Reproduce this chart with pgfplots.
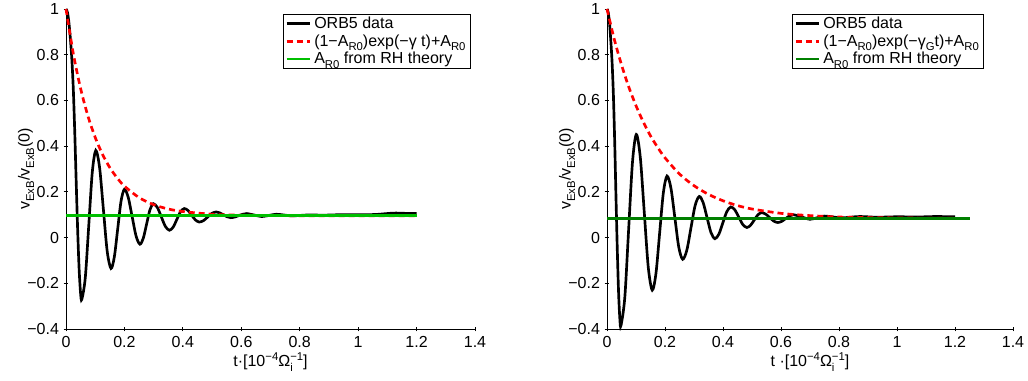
\documentclass[border=0pt]{standalone}
\usepackage{fontspec}
\setmainfont{Liberation Sans}
\usepackage{pgfplots}
\pgfplotsset{compat=1.18}
\definecolor{mred}{RGB}{255,0,0}
\definecolor{mgreenA}{RGB}{0,191,0}
\definecolor{mgreenB}{RGB}{0,128,0}
\newcommand{\fs}{\fontsize{12}{14}\selectfont}
\newcommand{\sbs}[1]{\raisebox{-3.4pt}{\fontsize{8.5}{9}\selectfont #1}}
\newcommand{\sps}[1]{\raisebox{4.6pt}{\fontsize{8.5}{9}\selectfont #1}}
\pgfplotsset{
 mystyle/.style={
  scale only axis, height=240pt,
  xmin=0,xmax=1.4,ymin=-0.4,ymax=1,
  axis lines=left, axis line style={-, line width=0.6pt},
  xtick={0,0.2,0.4,0.6,0.8,1,1.2,1.4}, xticklabels={0,0.2,0.4,0.6,0.8,1,1.2,1.4},
  ytick={-0.4,-0.2,0,0.2,0.4,0.6,0.8,1}, yticklabels={−0.4,−0.2,0,0.2,0.4,0.6,0.8,1},
  tick style={line width=0.6pt, black}, major tick length=3.5pt,
  tick label style={font=\fs},
  label style={font=\fs},
  clip=false,
  legend cell align=left,
  legend style={font=\fs, draw=black, line width=0.6pt, anchor=north west, inner sep=1.5pt, row sep=2pt,
    nodes={inner ysep=0.5pt}},
  legend image code/.code={\draw[#1] (0cm,0cm) -- (0.62cm,0cm);},
  ylabel={v\sbs{ExB}/v\sbs{ExB}(0)},
  ylabel style={at={([xshift=-30pt]axis description cs:0,0.5)}, anchor=center},
  xlabel style={at={([yshift=-24.75pt]axis description cs:0.5,0)}, anchor=center},
 },
 blk/.style={black, line width=2pt, smooth},
 rdd/.style={mred, line width=2pt, dash pattern=on 4.5pt off 3pt, smooth},
}
\begin{document}
\begin{tikzpicture}
\useasboundingbox (0,0) rectangle (771pt,285.75pt);
% left panel
\begin{axis}[mystyle, width=306.75pt, at={(49.5pt,39pt)}, anchor=south west,
  xlabel={t·[10\sps{−4}Ω\rlap{\sbs{i}}\sps{−1}]},
  legend style={at={(axis description cs:0.5306,0.985)}}]
\addplot[blk] coordinates {
(0,1.0)(0.005,0.985)(0.01,0.94)(0.015,0.87)(0.02,0.78)(0.025,0.65)(0.03,0.46)(0.035,0.24)(0.04,0.03)(0.045,-0.14)(0.05,-0.245)(0.054,-0.271)
(0.066,-0.176)(0.078,0.055)(0.090,0.286)(0.102,0.381)
(0.115,0.306)(0.128,0.123)(0.141,-0.060)(0.154,-0.135)
(0.1655,-0.084)(0.177,0.038)(0.1885,0.160)(0.200,0.211)
(0.213,0.176)(0.2265,0.091)(0.240,0.006)(0.253,-0.029)
(0.2645,-0.003)(0.276,0.0595)(0.2875,0.122)(0.299,0.148)
(0.313,0.131)(0.3265,0.090)(0.340,0.049)(0.354,0.032)
(0.367,0.046)(0.3795,0.0795)(0.392,0.113)(0.405,0.127)
(0.418,0.118)(0.4305,0.0975)(0.443,0.077)(0.456,0.068)
(0.4705,0.074)(0.485,0.090)(0.4995,0.106)(0.514,0.112)
(0.5265,0.108)(0.539,0.0995)(0.5515,0.091)(0.564,0.087)
(0.578,0.090)(0.5915,0.096)(0.605,0.102)(0.619,0.105)
(0.6445,0.0985)(0.67,0.092)(0.695,0.097)(0.72,0.102)(0.7475,0.0985)(0.775,0.095)
(0.83,0.099)(0.88,0.098)(0.94,0.100)(1.0,0.100)(1.06,0.101)(1.12,0.107)(1.16,0.106)(1.2,0.105)
};
\addlegendentry{ORB5 data}
\addplot[rdd] coordinates {
(0,1.0)(0.025,0.805)(0.05,0.652)(0.075,0.532)(0.1,0.438)(0.125,0.364)(0.15,0.306)(0.175,0.261)(0.2,0.225)
(0.25,0.175)(0.3,0.144)(0.35,0.125)(0.4,0.114)(0.5,0.102)(0.6,0.098)(0.8,0.0954)(1.0,0.095)(1.2,0.095)
};
\addlegendentry{(1−A\sbs{R0})exp(−γ t)+A\sbs{R0}}
\addplot[mgreenA, line width=2pt] coordinates {(0,0.096)(1.2,0.096)};
\addlegendentry{A\sbs{R0} from RH theory}
\end{axis}
% right panel
\begin{axis}[mystyle, width=304.5pt, at={(455.25pt,39pt)}, anchor=south west,
  xlabel={t ·[10\sps{−4}Ω\rlap{\sbs{i}}\sps{−1}]},
  legend style={at={(axis description cs:0.4557,0.985)}}]
\addplot[blk] coordinates {
(0,1.0)(0.0044,0.984)(0.0089,0.935)(0.0133,0.858)(0.0178,0.760)(0.0222,0.618)(0.0267,0.411)(0.0311,0.171)(0.0356,-0.058)(0.04,-0.243)(0.0444,-0.358)(0.048,-0.386)
(0.0613,-0.2635)(0.0745,0.0325)(0.0878,0.3285)(0.101,0.451)
(0.1148,0.351)(0.1285,0.1105)(0.1423,-0.130)(0.156,-0.230)
(0.1688,-0.157)(0.1815,0.0195)(0.1943,0.196)(0.207,0.269)
(0.2205,0.216)(0.234,0.087)(0.2475,-0.042)(0.261,-0.095)
(0.2753,-0.055)(0.2895,0.0425)(0.3038,0.140)(0.318,0.180)
(0.3315,0.153)(0.345,0.0875)(0.3585,0.022)(0.372,-0.005)
(0.3858,0.015)(0.3995,0.0645)(0.4133,0.114)(0.427,0.134)
(0.4408,0.121)(0.4545,0.089)(0.4683,0.057)(0.482,0.044)
(0.4948,0.0535)(0.5075,0.0765)(0.5203,0.0995)(0.533,0.109)
(0.547,0.1027)(0.561,0.0875)(0.575,0.072)(0.589,0.066)
(0.6025,0.071)(0.616,0.083)(0.6295,0.095)(0.643,0.100)
(0.6715,0.090)(0.70,0.080)(0.725,0.087)(0.75,0.094)(0.78,0.090)(0.81,0.086)
(0.87,0.092)(0.93,0.089)(1.0,0.091)(1.07,0.090)(1.13,0.092)(1.2,0.091)
};
\addlegendentry{ORB5 data}
\addplot[rdd] coordinates {
(0,1.0)(0.025,0.868)(0.05,0.756)(0.075,0.659)(0.1,0.577)(0.125,0.506)(0.15,0.445)(0.175,0.394)(0.2,0.349)
(0.25,0.278)(0.3,0.227)(0.35,0.189)(0.4,0.161)(0.45,0.140)(0.5,0.125)(0.6,0.106)(0.7,0.096)(0.8,0.090)(0.9,0.0875)(1.0,0.086)(1.1,0.085)(1.2,0.0846)
};
\addlegendentry{(1−A\sbs{R0})exp(−γ\sbs{G}t)+A\sbs{R0}}
\addplot[mgreenB, line width=2pt] coordinates {(0,0.084)(1.25,0.084)};
\addlegendentry{A\sbs{R0} from RH theory}
\end{axis}
\end{tikzpicture}
\end{document}
